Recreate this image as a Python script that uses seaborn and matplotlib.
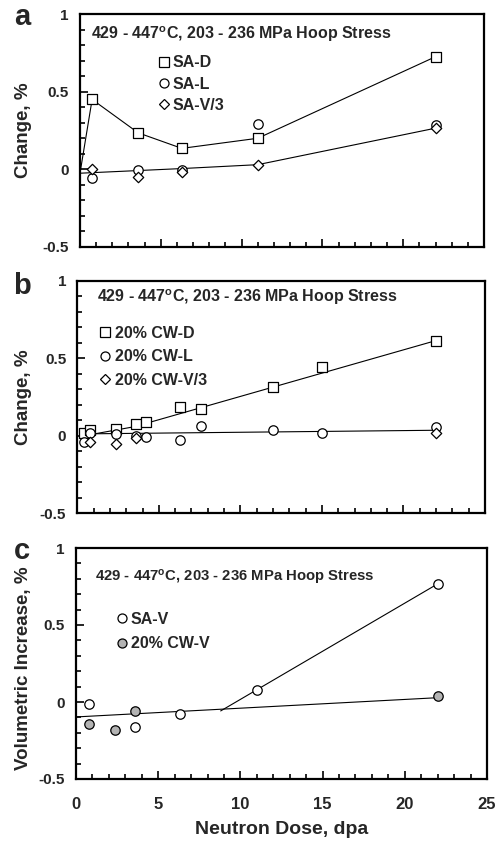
import matplotlib
matplotlib.use("Agg")
import matplotlib.pyplot as plt
from matplotlib.ticker import MultipleLocator, FuncFormatter
from matplotlib.lines import Line2D
import seaborn as sns
import pandas as pd

# ---------------- data ----------------
# panel a : solution annealed (SA)
sa_dose = [0.75, 3.6, 6.3, 11.0, 22.0]
sa_d = [0.45, 0.235, 0.135, 0.20, 0.725]
sa_l = [-0.055, -0.005, -0.005, 0.29, 0.285]
sa_v3 = [0.005, -0.05, -0.02, 0.03, 0.265]
sa_d_line_dose = [0.0, 0.75, 3.6, 6.3, 11.0, 22.0]
sa_d_line = [-0.025, 0.45, 0.235, 0.135, 0.20, 0.725]
sa_v3_line_dose = [0.0, 6.3, 11.0, 22.0]
sa_v3_line = [-0.025, 0.005, 0.03, 0.265]

# panel b : 20% cold worked (CW)
cw_dose = [0.4, 0.8, 2.4, 3.6, 4.2, 6.3, 7.6, 12.0, 15.0, 22.0]
cw_d = [0.015, 0.035, 0.04, 0.075, 0.09, 0.185, 0.175, 0.315, 0.445, 0.615]
cw_l = [-0.042, 0.02, 0.012, -0.005, -0.01, -0.025, 0.062, 0.035, 0.015, 0.055]
cw_v3_dose = [0.8, 2.4, 3.6, 22.0]
cw_v3 = [-0.042, -0.056, -0.017, 0.015]
cw_d_fit_dose = [0.45, 3.5, 22.0]
cw_d_fit = [0.0, 0.058, 0.615]
cw_l_fit_dose = [0.8, 22.0]
cw_l_fit = [0.012, 0.035]

# panel c : volumetric increase
sav_dose = [0.8, 3.6, 6.3, 11.0, 22.0]
sa_v = [-0.015, -0.16, -0.075, 0.08, 0.767]
cwv_dose = [0.8, 2.4, 3.6, 22.0]
cw_v = [-0.14, -0.18, -0.06, 0.037]
cwv_fit_dose = [0.0, 22.0]
cwv_fit = [-0.097, 0.028]
sav_fit_dose = [8.8, 22.0]
sav_fit = [-0.058, 0.767]

x_ticks = [0, 5, 10, 15, 20, 25]
y_ticks = [-0.5, 0, 0.5, 1]
annot = "429 - 447$^{\\mathbf{o}}$C, 203 - 236 MPa Hoop Stress"

# ---------------- style ----------------
sns.set_style("ticks")
plt.rcParams["font.family"] = ["Liberation Sans", "DejaVu Sans"]
plt.rcParams["font.weight"] = "bold"
plt.rcParams["axes.unicode_minus"] = False
plt.rcParams["mathtext.fontset"] = "custom"
plt.rcParams["mathtext.bf"] = "Liberation Sans:bold"
plt.rcParams["mathtext.rm"] = "Liberation Sans:bold"
plt.rcParams["mathtext.default"] = "bf"

fig = plt.figure(figsize=(4.99, 8.43), dpi=100)

ax_a = fig.add_axes([80 / 499, 1 - 247 / 843, 404 / 499, 233 / 843])
ax_b = fig.add_axes([77.3 / 499, 1 - 513 / 843, 407.7 / 499, 232 / 843])
ax_c = fig.add_axes([76 / 499, 1 - 779 / 843, 411 / 499, 231 / 843])

LW = 0.8
MEW = 0.9
S_SQ = 48
S_O = 46
S_D = 28
FS_ANN = 11.5
FS_LEG = 11.5


def scatter(ax, x, y, marker, s, face="white"):
    df = pd.DataFrame({"x": x, "y": y})
    sns.scatterplot(data=df, x="x", y="y", marker=marker, s=s, facecolor=face,
                    edgecolor="black", linewidth=MEW, ax=ax, zorder=3, legend=False)


def line(ax, x, y):
    df = pd.DataFrame({"x": x, "y": y})
    sns.lineplot(data=df, x="x", y="y", color="black", lw=LW, ax=ax,
                 sort=False, estimator=None, zorder=2, legend=False)


def style_axes(ax, show_x):
    ax.set_xlim(0, 25)
    ax.set_ylim(-0.5, 1)
    ax.xaxis.set_major_locator(MultipleLocator(5))
    ax.xaxis.set_minor_locator(MultipleLocator(1))
    ax.set_yticks(y_ticks)
    ax.yaxis.set_minor_locator(MultipleLocator(0.1))
    ax.yaxis.set_major_formatter(FuncFormatter(lambda v, p: f"{v:g}"))
    for sp in ax.spines.values():
        sp.set_linewidth(1.6)
        sp.set_color("black")
    ax.tick_params(which="both", direction="in", top=False, right=False,
                   width=1.2, color="black")
    ax.tick_params(which="major", length=6)
    ax.tick_params(which="minor", length=3.5)
    ax.tick_params(axis="y", which="major", labelsize=11, pad=8)
    ax.tick_params(axis="x", which="major", labelsize=12, pad=13,
                   labelbottom=show_x)
    for t in ax.get_yticklabels() + ax.get_xticklabels():
        t.set_fontweight("bold")
    ax.set_xlabel("")
    ax.set_ylabel("")


def legend(ax, items, anchor, spacing, textpad):
    handles = [Line2D([], [], linestyle="none", marker=m, markersize=ms,
                      markerfacecolor=fc, markeredgecolor="black",
                      markeredgewidth=MEW, label=lab)
               for m, ms, fc, lab in items]
    ax.legend(handles=handles, loc="upper left", bbox_to_anchor=anchor,
              frameon=False, borderpad=0, borderaxespad=0,
              handlelength=0.95, handletextpad=textpad, labelspacing=spacing,
              prop={"weight": "bold", "size": FS_LEG})


# ---------------- panel a ----------------
line(ax_a, sa_d_line_dose, sa_d_line)
line(ax_a, sa_v3_line_dose, sa_v3_line)
scatter(ax_a, sa_dose, sa_d, "s", S_SQ)
scatter(ax_a, sa_dose, sa_l, "o", S_O)
scatter(ax_a, sa_dose, sa_v3, "D", S_D)
style_axes(ax_a, False)
ax_a.text(0.026, 0.915, annot, transform=ax_a.transAxes, fontsize=FS_ANN,
          fontweight="bold", va="center", ha="left")
legend(ax_a, [("s", 7.0, "white", "SA-D"), ("o", 6.5, "white", "SA-L"),
              ("D", 5.2, "white", "SA-V/3")], (0.188, 0.822), 0.38, 0.1)
ax_a.set_ylabel("Change, %", fontsize=13.5, fontweight="bold")
ax_a.yaxis.set_label_coords(-0.119, 0.5)

# ---------------- panel b ----------------
line(ax_b, cw_d_fit_dose, cw_d_fit)
line(ax_b, cw_l_fit_dose, cw_l_fit)
scatter(ax_b, cw_dose, cw_d, "s", S_SQ)
scatter(ax_b, cw_dose, cw_l, "o", S_O)
scatter(ax_b, cw_v3_dose, cw_v3, "D", S_D)
style_axes(ax_b, False)
ax_b.text(0.048, 0.93, annot, transform=ax_b.transAxes, fontsize=FS_ANN,
          fontweight="bold", va="center", ha="left")
legend(ax_b, [("s", 7.0, "white", "20% CW-D"), ("o", 6.5, "white", "20% CW-L"),
              ("D", 5.2, "white", "20% CW-V/3")], (0.05, 0.808), 0.54, 0.15)
ax_b.set_ylabel("Change, %", fontsize=13.5, fontweight="bold")
ax_b.yaxis.set_label_coords(-0.111, 0.5)

# ---------------- panel c ----------------
line(ax_c, cwv_fit_dose, cwv_fit)
line(ax_c, sav_fit_dose, sav_fit)
scatter(ax_c, sav_dose, sa_v, "o", S_O)
scatter(ax_c, cwv_dose, cw_v, "o", S_O, face="#b3b3b3")
style_axes(ax_c, True)
ax_c.set_xticks(x_ticks)
ax_c.set_xticklabels([str(v) for v in x_ticks], fontweight="bold")
ax_c.text(0.046, 0.873, annot, transform=ax_c.transAxes, fontsize=10.7,
          fontweight="bold", va="center", ha="left")
legend(ax_c, [("o", 6.5, "white", "SA-V"), ("o", 6.5, "#b3b3b3", "20% CW-V")],
       (0.093, 0.725), 0.62, 0.1)
ax_c.set_ylabel("Volumetric Increase, %", fontsize=13.5, fontweight="bold")
ax_c.yaxis.set_label_coords(-0.107, 0.478)
ax_c.set_xlabel("Neutron Dose, dpa", fontsize=14, fontweight="bold")
ax_c.xaxis.set_label_coords(0.5, -0.18)

# panel letters
for lab, yp in [("a", 17), ("b", 286), ("c", 551)]:
    fig.text(22 / 499, 1 - yp / 843, lab, fontsize=21, fontweight="bold",
             ha="center", va="center")

fig.savefig("out.png", dpi=100)
